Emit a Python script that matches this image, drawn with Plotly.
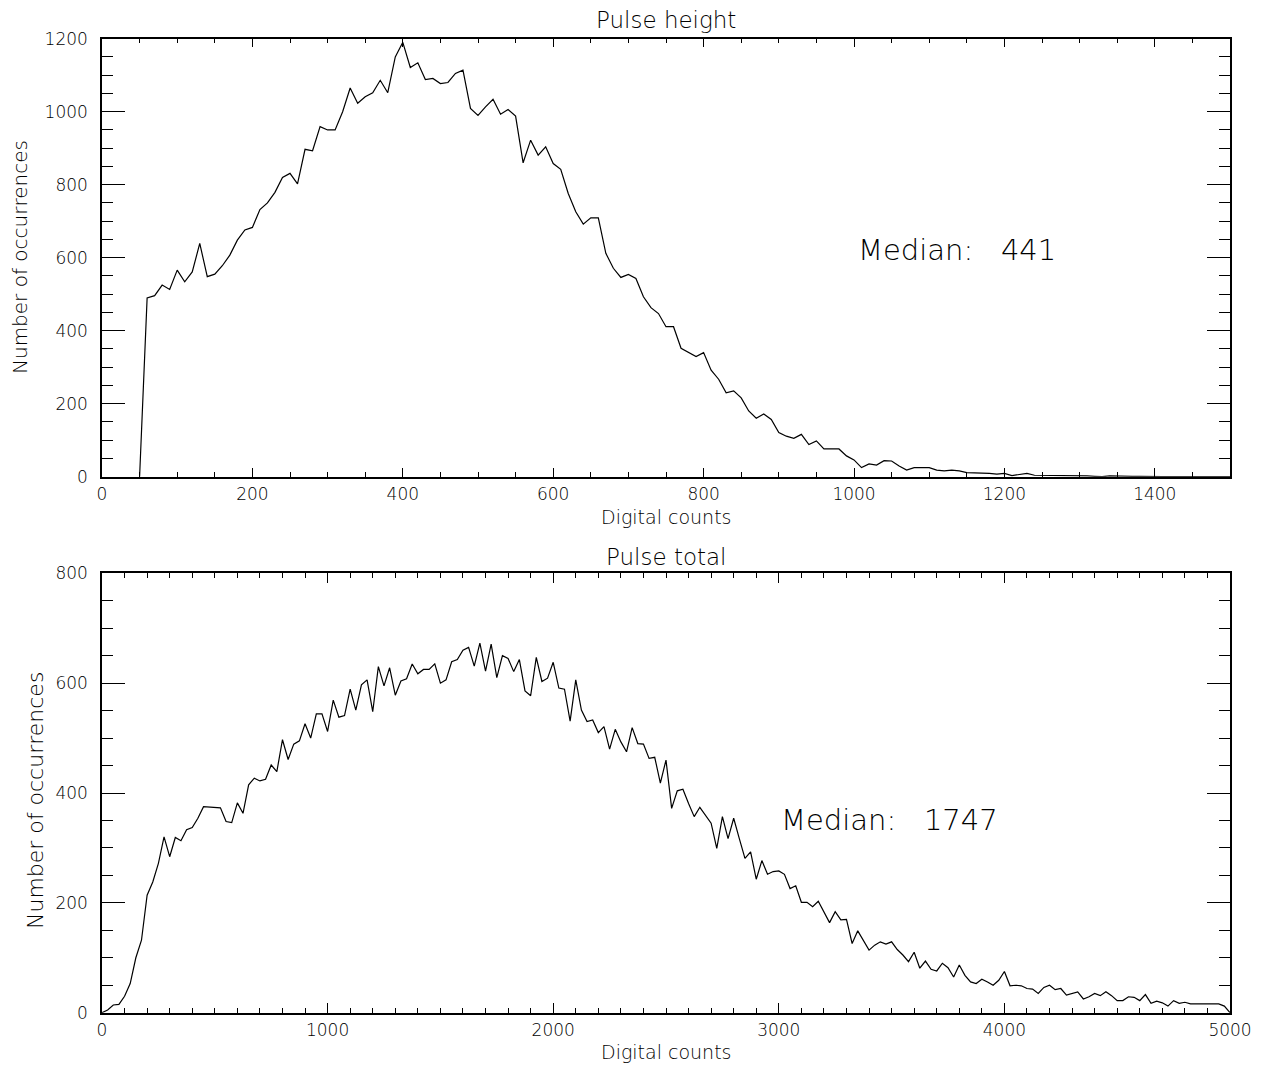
import numpy as np
import plotly.graph_objects as go

# pulse height histogram, bins of 10 counts starting at 50
height_bins = np.arange(50, 1501, 10)
height_counts = [
    0, 490, 496, 525, 513, 566, 534, 561, 639, 548,
    555, 578, 607, 648, 676, 683, 732, 750, 779, 820,
    831, 802, 897, 893, 959, 950, 950, 1000, 1065, 1023,
    1041, 1052, 1086, 1052, 1150, 1190, 1121, 1134, 1088, 1091,
    1077, 1080, 1105, 1114, 1009, 990, 1013, 1034, 993, 1006,
    988, 860, 922, 881, 904, 858, 842, 776, 726, 692,
    709, 709, 612, 571, 546, 554, 543, 493, 463, 447,
    411, 411, 352, 341, 329, 340, 292, 267, 230, 235,
    216, 180, 160, 172, 157, 121, 111, 105, 116, 88,
    98, 76, 76, 76, 57, 46, 25, 35, 32, 44,
    43, 29, 18, 25, 25, 25, 18, 16, 18, 16,
    11, 11, 11, 9, 7, 9, 3, 6, 9, 4,
    4, 4, 2, 3, 4, 3, 2, 1, 0, 2,
    1, 1, 1, 1, 0, 1, 0, 0, 1, 0,
    0, 0, 0, 1, 0, 0,
]
height_median = 441

# pulse total histogram, bins of 25 counts
total_bins = np.arange(0, 5001, 25)
total_counts = [
    0, 5, 14, 15, 30, 53, 100, 132, 214, 238,
    272, 320, 284, 319, 313, 333, 337, 354, 375, 374,
    373, 373, 348, 346, 382, 363, 415, 427, 422, 425,
    451, 439, 497, 461, 489, 495, 526, 500, 544, 544,
    512, 569, 538, 541, 589, 551, 597, 606, 548, 630,
    595, 628, 578, 604, 608, 635, 617, 625, 625, 635,
    600, 606, 639, 643, 660, 665, 631, 673, 622, 671,
    610, 650, 645, 621, 643, 586, 577, 647, 603, 609,
    638, 591, 589, 531, 606, 551, 530, 533, 510, 521,
    480, 516, 493, 475, 519, 490, 489, 463, 465, 418,
    460, 372, 404, 407, 381, 357, 374, 359, 345, 299,
    357, 317, 354, 317, 281, 293, 243, 277, 252, 257,
    258, 252, 226, 231, 201, 201, 193, 203, 182, 164,
    184, 169, 170, 126, 149, 132, 114, 123, 129, 125,
    129, 115, 105, 93, 110, 81, 94, 79, 76, 90,
    82, 65, 87, 68, 56, 53, 61, 56, 50, 59,
    75, 49, 50, 49, 44, 43, 35, 46, 50, 42,
    44, 32, 35, 38, 25, 29, 35, 31, 38, 31,
    22, 22, 29, 28, 22, 33, 17, 21, 18, 12,
    22, 17, 19, 16, 16, 16, 16, 16, 16, 12,
    0,
]
total_median = 1747

W, H = 1277, 1068
FONT = 'DejaVu Sans'
nb = '\u00a0'
OFF = 8  # page body margin


def px(x):
    return (x - OFF) / W


def py(y):
    return 1 - (y - OFF) / H


fig = go.Figure()
fig.add_trace(go.Scatter(x=height_bins, y=height_counts, mode='lines',
                         line=dict(color='black', width=1.2),
                         xaxis='x', yaxis='y', showlegend=False))
fig.add_trace(go.Scatter(x=total_bins, y=total_counts, mode='lines',
                         line=dict(color='black', width=1.2),
                         xaxis='x2', yaxis='y2', showlegend=False))


def ax(rng, dtick, mdtick, tlen, mlen, domain, anchor, standoff):
    return dict(range=rng, domain=domain, anchor=anchor,
                dtick=dtick, tick0=0, ticks='inside', ticklen=tlen, tickwidth=1.2,
                tickcolor='black', showline=True, linecolor='black', linewidth=1.5,
                mirror='ticks', showgrid=False, zeroline=False,
                ticklabelstandoff=standoff,
                tickfont=dict(family=FONT, size=17, color='black', weight=300),
                minor=dict(dtick=mdtick, tick0=0, ticks='inside', ticklen=mlen,
                           tickwidth=1.2, tickcolor='black', showgrid=False))


left, right = 102, 1230
xdom = [px(left), px(right)]
top_dom = [py(476.7), py(38.7)]
bot_dom = [py(1012.7), py(573.3)]

fig.update_layout(
    width=W, height=H,
    margin=dict(l=0, r=0, t=0, b=0, autoexpand=False),
    paper_bgcolor='white', plot_bgcolor='white',
    xaxis=ax([0, 1500], 200, 50, 9, 5, xdom, 'y', 1),
    yaxis=ax([0, 1200], 200, 50, 23, 11, top_dom, 'x', 9),
    xaxis2=ax([0, 5000], 1000, 100, 10, 5, xdom, 'y2', 1),
    yaxis2=ax([0, 800], 200, 50, 23, 11, bot_dom, 'x2', 9),
)

cx = px((left + right) / 2)
labels = [
    ('Pulse height', cx, py(20), 0, 23),
    ('Digital counts', cx, py(517), 0, 19),
    ('Pulse total', cx, py(557), 0, 23),
    ('Digital counts', cx, py(1052), 0, 19),
    ('Number of occurrences', px(20), py(257), -90, 20),
    ('Number of occurrences', px(35), py(801), -90, 22),
]
for txt, x, y, ang, size in labels:
    fig.add_annotation(text=txt, x=x, y=y, xref='paper', yref='paper',
                       showarrow=False, textangle=ang,
                       font=dict(family=FONT, size=size, color='black', weight=300),
                       xanchor='center', yanchor='middle')

mfont = dict(family=FONT, size=29, color='black', weight=300)
fig.add_annotation(text='Median:' + nb * 3 + str(height_median), x=1002, y=621,
                   xref='x', yref='y', showarrow=False, font=mfont,
                   xanchor='left', yanchor='middle')
fig.add_annotation(text='Median:' + nb * 3 + str(total_median), x=3000, y=350,
                   xref='x2', yref='y2', showarrow=False, font=mfont,
                   xanchor='left', yanchor='middle')

fig.write_html('out.html')
